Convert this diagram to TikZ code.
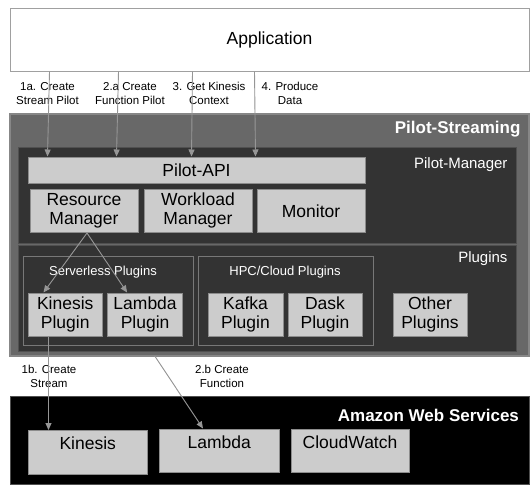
\documentclass[tikz,border=0pt]{standalone}
\usepackage{fontspec}
\setmainfont{Liberation Sans}
\usetikzlibrary{arrows.meta,calc}

\definecolor{gristrait}{RGB}{150,150,150}
\definecolor{grisapp}{RGB}{160,160,160}
\definecolor{grismoyen}{RGB}{104,104,104}
\definecolor{grisps}{RGB}{135,135,135}
\definecolor{grisfonce}{RGB}{51,51,51}
\definecolor{grispm}{RGB}{80,80,80}
\definecolor{grisgroupe}{RGB}{120,120,120}
\definecolor{grisclair}{RGB}{204,204,204}
\definecolor{grisbord}{RGB}{140,140,140}

\begin{document}
\begin{tikzpicture}[x=1pt, y=-1pt]
			\tikzset{cadre/.style={draw, inner sep=0pt, line width=1pt},
			boite/.style={draw=grisbord, fill=grisclair, line width=1pt, inner sep=0pt, align=center, font=\fontsize{17.5}{19}\selectfont},
			fleche/.style={-{Triangle[length=7pt, width=6pt]}, draw=gristrait, fill=gristrait, line width=0.9pt},
			etiquette/.style={align=center, font=\fontsize{11.5}{14}\selectfont},
			titre/.style={anchor=east, text=white, font=\bfseries\fontsize{17}{19}\selectfont},
			soustitre/.style={anchor=east, text=white, font=\fontsize{15}{17}\selectfont},
			groupe/.style={text=white, font=\fontsize{13}{15}\selectfont},
			texteaws/.style={anchor=north, inner sep=0pt, yshift=-7pt, font=\fontsize{17.5}{19}\selectfont}};

			\useasboundingbox (0,0) rectangle (532,485);

			% application
			\node[cadre, fill=white, draw=grisapp, minimum width=519pt, minimum height=63pt, font=\fontsize{17.5}{19}\selectfont] (app) at (269.5, 39.5) {Application};

			% pilot-streaming
			\node[cadre, fill=grismoyen, draw=grisps, line width=1.4pt, minimum width=519pt, minimum height=242pt] (ps) at (269.5, 235) {};
			\node[titre] (tps) at (524, 129) {Pilot-Streaming};

			\node[cadre, fill=grisfonce, draw=grispm, minimum width=498pt, minimum height=95.5pt] (pm) at (267.5, 195.25) {};
			\node[soustitre] (tpm) at (511, 165) {Pilot-Manager};
			\node[boite, minimum width=337pt, minimum height=26pt] (api) at (196.5,  170) {Pilot-API};
			\node[boite, minimum width=108pt, minimum height=43.5pt] (rm)  at (  84, 210.75) {Resource\\Manager};
			\node[boite, minimum width=108pt, minimum height=43.5pt] (wm)  at ( 198, 210.75) {Workload\\Manager};
			\node[boite, minimum width=108pt, minimum height=43.5pt] (mon) at ( 311, 210.75) {Monitor};

			\node[cadre, fill=grisfonce, draw=grispm, minimum width=498pt, minimum height=106pt] (plug) at (267.5, 298) {};
			\node[soustitre] (tplug) at (511, 259) {Plugins};
			\node[cadre, fill=grisfonce, draw=grisgroupe, minimum width=170pt, minimum height=89pt] (sls) at (108, 301) {};
			\node[groupe] (tsls) at (103, 272) {Serverless Plugins};
			\node[cadre, fill=grisfonce, draw=grisgroupe, minimum width=174.5pt, minimum height=89pt] (hpc) at (285.75, 301) {};
			\node[groupe] (thpc) at (285, 272) {HPC/Cloud Plugins};

			\node[boite, minimum width=74.5pt, minimum height=43.5pt] (kpl)   at ( 65.25, 314.75) {Kinesis\\Plugin};
			\node[boite, minimum width=75pt,   minimum height=43.5pt] (lpl)   at (145.1,  314.75) {Lambda\\Plugin};
			\node[boite, minimum width=75pt,   minimum height=43.5pt] (kaf)   at (245.5,  314.75) {Kafka\\Plugin};
			\node[boite, minimum width=74pt,   minimum height=43.5pt] (dask)  at (  325,  314.75) {Dask\\Plugin};
			\node[boite, minimum width=74pt,   minimum height=43.5pt] (other) at (  430,  314.75) {Other\\Plugins};

			% amazon web services
			\node[cadre, fill=black, draw=grispm, minimum width=519pt, minimum height=87.5pt] (aws) at (269.5, 440.25) {};
			\node[titre] (taws) at (522.5, 415) {Amazon Web Services};
			\node[boite, minimum width=119.5pt, minimum height=43.5pt, label={[texteaws]north:Kinesis}]    (kin) at ( 87.75, 452.25) {};
			\node[boite, minimum width=119.5pt, minimum height=43.5pt, label={[texteaws]north:Lambda}]     (lam) at (219.25, 450.75) {};
			\node[boite, minimum width=118pt,   minimum height=43.5pt, label={[texteaws]north:CloudWatch}] (cw)  at (  350,  450.75) {};

			\node[etiquette] (e1a) at ( 47.5,  93.5) {1a. Create\\Stream Pilot};
			\node[etiquette] (e2a) at (  130,  93.5) {2.a Create\\Function Pilot};
			\node[etiquette] (e3)  at (  209,  93.5) {3. Get Kinesis\\Context};
			\node[etiquette] (e4)  at (  290,  93.5) {4. Produce\\Data};
			\node[etiquette] (e1b) at (   49, 376.5) {1b. Create\\Stream};
			\node[etiquette] (e2b) at (  222, 376.5) {2.b Create\\Function};

			\draw[fleche] ($(app.south west)+( 40,0)$) to ($(api.north west)+( 20,0)$);
			\draw[fleche] ($(app.south west)+(109,0)$) to ($(api.north west)+( 89,0)$);
			\draw[fleche] ($(app.south west)+(183,0)$) to ($(api.north west)+(164,0)$);
			\draw[fleche] ($(app.south west)+(245,0)$) to ($(api.north west)+(228,0)$);
			\draw[fleche] ($(rm.south)+(3,0)$) to ($(kpl.north west)+(16,0)$);
			\draw[fleche] ($(rm.south)+(3,0)$) to ($(lpl.north west)+(20,0)$);
			\draw[fleche] ($(kpl.south west)+(21,0)$) to ($(kin.north west)+(21,0)$);
			\begin{scope}
				\clip (ps.south west) rectangle (aws.south east);
				\draw[fleche] ($(lpl.south)+(-3,0)$) to ($(lam.north west)+(44,0)$);
			\end{scope}
		\end{tikzpicture}
\end{document}
